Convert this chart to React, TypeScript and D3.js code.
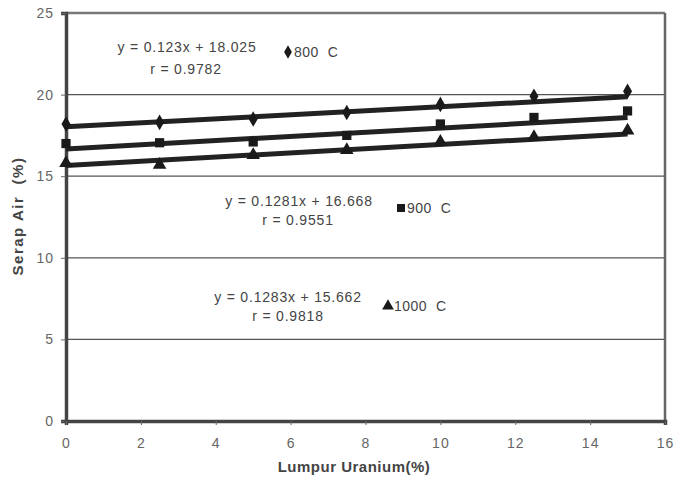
import React, { useEffect, useRef } from 'react';
import * as d3 from 'd3';

const xValues = [0, 2.5, 5, 7.5, 10, 12.5, 15];
const series800 = [18.2, 18.3, 18.5, 18.9, 19.4, 19.9, 20.2];
const series900 = [17.0, 17.05, 17.1, 17.5, 18.2, 18.6, 19.0];
const series1000 = [15.8, 15.7, 16.3, 16.6, 17.1, 17.4, 17.8];
const seriesNames = ['800  C', '900  C', '1000  C'];
const slopes = [0.123, 0.1281, 0.1283];
const intercepts = [18.025, 16.668, 15.662];
const equations = ['y = 0.123x + 18.025', 'y = 0.1281x + 16.668', 'y = 0.1283x + 15.662'];
const rValues = ['r = 0.9782', 'r = 0.9551', 'r = 0.9818'];
const xTicks = [0, 2, 4, 6, 8, 10, 12, 14, 16];
const yTicks = [0, 5, 10, 15, 20, 25];

export default function App() {
  const svgRef = useRef<SVGSVGElement>(null);

  useEffect(() => {
    if (!svgRef.current) return;
    const svg = d3.select(svgRef.current);
    svg.selectAll('*').remove();

    const width = 675;
    const height = 486;
    const left = 66, right = 665, top = 13, bottom = 421;
    const font = 'Arial, "Liberation Sans", sans-serif';

    const x = d3.scaleLinear().domain([0, 16]).range([left, right]);
    const y = d3.scaleLinear().domain([0, 25]).range([bottom, top]);

    svg.attr('width', width).attr('height', height);
    svg.append('rect').attr('width', width).attr('height', height).attr('fill', '#fff');

    // Gridlines
    svg.append('g')
      .selectAll('line')
      .data(yTicks.filter(t => t > 0 && t < 25))
      .join('line')
      .attr('x1', left).attr('x2', right)
      .attr('y1', d => y(d)).attr('y2', d => y(d))
      .attr('stroke', '#555').attr('stroke-width', 1.2);

    // Frame (top/right)
    svg.append('line').attr('x1', left).attr('x2', right).attr('y1', top).attr('y2', top)
      .attr('stroke', '#777').attr('stroke-width', 2.5);
    svg.append('line').attr('x1', right).attr('x2', right).attr('y1', top).attr('y2', bottom)
      .attr('stroke', '#666').attr('stroke-width', 2.5);

    // Axes
    const yAxis = svg.append('g')
      .attr('transform', `translate(${left},0)`)
      .call(d3.axisLeft(y).tickValues(yTicks).tickSize(5).tickFormat(d3.format('d')));
    yAxis.select('.domain').attr('stroke', '#444').attr('stroke-width', 3.5);
    yAxis.selectAll('.tick line').attr('stroke', '#666');
    yAxis.selectAll('.tick text')
      .attr('x', -12)
      .style('font-family', font).style('letter-spacing', '1px')
      .style('font-size', '14px').attr('fill', '#666');

    const xAxis = svg.append('g')
      .attr('transform', `translate(0,${bottom})`)
      .call(d3.axisBottom(x).tickValues(xTicks).tickSize(4).tickFormat(d3.format('d')));
    xAxis.select('.domain').attr('stroke', '#444').attr('stroke-width', 3.5);
    xAxis.selectAll('.tick line').attr('stroke', '#666');
    xAxis.selectAll('.tick text')
      .attr('y', 17)
      .style('font-family', font).style('letter-spacing', '1px')
      .style('font-size', '14px').attr('fill', '#666');

    // Axis titles
    svg.append('text')
      .attr('transform', 'rotate(-90)')
      .attr('x', -216).attr('y', 23)
      .attr('text-anchor', 'middle')
      .style('font-family', font).style('letter-spacing', '1.5px')
      .style('font-size', '15px').style('font-weight', 'bold').attr('fill', '#444')
      .attr('xml:space', 'preserve')
      .text('Serap Air  (%)');

    svg.append('text')
      .attr('x', 354).attr('y', 472)
      .attr('text-anchor', 'middle')
      .style('font-family', font).style('letter-spacing', '0.5px')
      .style('font-size', '15px').style('font-weight', 'bold').attr('fill', '#444')
      .text('Lumpur Uranium(%)');

    const allSeries = [series800, series900, series1000];
    const symbols = [d3.symbolDiamond, d3.symbolSquare, d3.symbolTriangle];
    const symbolSizes = [70, 85, 80];

    // Trend lines
    allSeries.forEach((s, i) => {
      const x0 = xValues[0];
      const x1 = xValues[xValues.length - 1];
      svg.append('line')
        .attr('x1', x(x0)).attr('x2', x(x1))
        .attr('y1', y(intercepts[i] + slopes[i] * x0))
        .attr('y2', y(intercepts[i] + slopes[i] * x1))
        .attr('stroke', '#222').attr('stroke-width', 5);
    });

    // Markers
    allSeries.forEach((s, i) => {
      svg.append('g')
        .selectAll('path')
        .data(s)
        .join('path')
        .attr('transform', (d, j) => `translate(${x(xValues[j])},${y(d)})`)
        .attr('d', d3.symbol().type(symbols[i]).size(symbolSizes[i]))
        .attr('fill', '#1a1a1a');
    });

    // Equation labels + legend entries
    const eqPos = [[187, 52, 186, 74], [299, 206, 298, 225], [288, 302, 288, 321]];
    const legPos = [[288, 57], [401, 213], [388, 311]];
    equations.forEach((eq, i) => {
      const [ex, ey, rx, ry] = eqPos[i];
      svg.append('text').attr('x', ex).attr('y', ey).attr('text-anchor', 'middle')
        .style('font-family', font).style('font-size', '14px').style('letter-spacing', '0.8px')
        .attr('fill', '#444')
        .text(eq);
      svg.append('text').attr('x', rx).attr('y', ry).attr('text-anchor', 'middle')
        .style('font-family', font).style('font-size', '14px').style('letter-spacing', '0.8px')
        .attr('fill', '#444')
        .text(rValues[i]);
      const [lx, ly] = legPos[i];
      svg.append('path')
        .attr('transform', `translate(${lx},${ly - 5})`)
        .attr('d', d3.symbol().type(symbols[i]).size(symbolSizes[i] * 0.75))
        .attr('fill', '#1a1a1a');
      svg.append('text').attr('x', lx + 6).attr('y', ly)
        .attr('xml:space', 'preserve')
        .style('font-family', font).style('font-size', '14px').style('letter-spacing', '0.5px')
        .attr('fill', '#444')
        .text(seriesNames[i]);
    });
  }, []);

  return (
    <svg ref={svgRef} style={{ position: 'absolute', left: 0, top: 0, display: 'block' }}></svg>
  );
}
